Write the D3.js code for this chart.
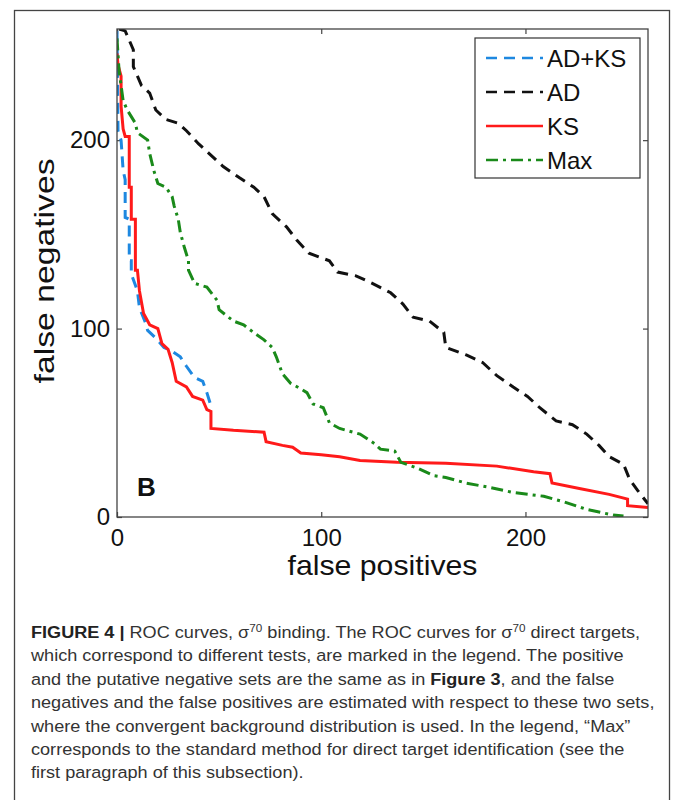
<!DOCTYPE html>
<html>
<head>
<meta charset="utf-8">
<script src="https://cdn.jsdelivr.net/npm/d3@7"></script>
<style>
  body { margin: 0; background: #fff; }
  svg { display: block; }
</style>
</head>
<body>
<div id="chart"></div>
<script>
// tick values
const xTicks = [0, 100, 200];
const yTicks = [0, 100, 200];

// series: [false positives, false negatives]
const adksData = [[0,258],[0.5,205],[2,200],[3,184],[4,179],[4,159],[6,158],[6,136],[7,136],[7,129],[10,120],[11,111],[14,103],[15,99],[19,95],[23,90],[27,88],[31,85],[34,80],[38,74],[42,72],[44,66],[46,59]];
const adData = [[1,259],[4,258],[8,248],[8,239],[12,229],[16,225],[19,216],[24,211],[30,209],[34,205],[40,198],[45,193],[52,186],[60,180],[67,175],[72,170],[76,161],[83,154],[88,147],[94,140],[104,136],[108,130],[117,128],[125,124],[134,119],[140,113],[145,106],[153,104],[160,98],[161,90],[171,86],[179,82],[186,75],[194,69],[201,64],[207,58],[215,51],[223,49],[230,44],[236,38],[241,32],[248,28],[251,20],[255,14],[260,7]];
const ksData = [[0,246],[0.5,240],[2,234],[2,218],[3,206],[4,202],[6,202],[6,175],[7,175],[7,158],[9,158],[9,131],[10,131],[11,120],[13,108],[16,102],[20,100],[22,92],[25,89],[27,82],[29,72],[34,69],[37,64],[42,62],[44,57],[46,56],[46,47],[57,46],[72,45],[73,40],[81,38],[86,37],[90,34],[100,33],[109,32],[119,30],[137,29],[161,28.5],[186,27],[204,24],[212,23],[213,18],[227,15],[241,12],[250,9.5],[250,6],[260,5]];
const maxData = [[0,254],[1,237],[3,221],[5,216],[9,209],[10,204],[15,200],[16,193],[18,184],[20,177],[24,175],[27,170],[28,165],[30,158],[31,151],[33,143],[35,136],[35,131],[38,124],[44,122],[49,115],[50,110],[57,104],[62,102],[68,97],[72,94],[76,90],[78,85],[81,76],[85,71],[90,68],[93,66],[96,60],[101,58],[104,50],[109,47],[119,44],[126,39],[129,36],[136,35],[139,29],[147,26],[155,22],[161,21],[171,18],[181,16],[194,13],[209,11],[219,8],[230,4],[243,1],[248,0.5]];

const seriesNames = ["AD+KS", "AD", "KS", "Max"];

const captionLines = [
  [{t: "FIGURE 4 | ", b: true}, {t: "ROC curves, σ"}, {t: "70", sup: true}, {t: " binding. The ROC curves for σ"}, {t: "70", sup: true}, {t: " direct targets,"}],
  [{t: "which correspond to different tests, are marked in the legend. The positive"}],
  [{t: "and the putative negative sets are the same as in "}, {t: "Figure 3", b: true}, {t: ", and the false"}],
  [{t: "negatives and the false positives are estimated with respect to these two sets,"}],
  [{t: "where the convergent background distribution is used. In the legend, “Max”"}],
  [{t: "corresponds to the standard method for direct target identification (see the"}],
  [{t: "first paragraph of this subsection)."}]
];

const W = 673, H = 800;
const margin = { top: 29, right: 25, bottom: 283, left: 117 };
const width = W - margin.left - margin.right;
const height = H - margin.top - margin.bottom;
const font = "'Liberation Sans', Arial, Helvetica, sans-serif";

const svg = d3.select("#chart").append("svg")
    .attr("width", W)
    .attr("height", H);

// outer frame of the figure panel
svg.append("rect")
    .attr("x", 14.5).attr("y", 10.5)
    .attr("width", 655).attr("height", 800)
    .attr("fill", "none")
    .attr("stroke", "#444")
    .attr("stroke-width", 1.3);

const g = svg.append("g")
    .attr("transform", `translate(${margin.left}, ${margin.top})`);

const x = d3.scaleLinear().domain([0, 260]).range([0, width]);
const y = d3.scaleLinear().domain([0, 259]).range([height, 0]);

g.append("defs").append("clipPath").attr("id", "plotclip")
  .append("rect").attr("width", width).attr("height", height);

// axes with inward ticks, matlab style
function styleAxis(sel) {
    sel.select(".domain").remove();
    sel.selectAll(".tick line").attr("stroke", "#444").attr("stroke-width", 1.2);
    sel.selectAll(".tick text")
        .attr("fill", "#111")
        .attr("font-family", font)
        .attr("font-size", 24);
}

g.append("g")
    .attr("transform", `translate(0, ${height})`)
    .call(d3.axisBottom(x).tickValues(xTicks).tickSizeInner(-5).tickSizeOuter(0).tickPadding(12))
    .call(styleAxis);
g.append("g")
    .call(d3.axisTop(x).tickValues(xTicks).tickSizeInner(-5).tickSizeOuter(0).tickFormat(""))
    .call(styleAxis);
g.append("g")
    .call(d3.axisLeft(y).tickValues(yTicks).tickSizeInner(-5).tickSizeOuter(0).tickPadding(7))
    .call(styleAxis);
g.append("g")
    .attr("transform", `translate(${width}, 0)`)
    .call(d3.axisRight(y).tickValues(yTicks).tickSizeInner(-5).tickSizeOuter(0).tickFormat(""))
    .call(styleAxis);

const line = d3.line()
    .x(d => x(d[0]))
    .y(d => y(d[1]));

const series = [
    { name: seriesNames[0], data: adksData, color: "#1e88e0", dash: "11,7" },
    { name: seriesNames[1], data: adData, color: "#111", dash: "11,7" },
    { name: seriesNames[2], data: ksData, color: "#ff1a1a", dash: null },
    { name: seriesNames[3], data: maxData, color: "#1a8a1a", dash: "12,5,3,5" }
];

const plot = g.append("g").attr("clip-path", "url(#plotclip)");
for (let s of series) {
    plot.append("path")
        .datum(s.data)
        .attr("d", line)
        .attr("fill", "none")
        .attr("stroke", s.color)
        .attr("stroke-width", 3)
        .attr("stroke-dasharray", s.dash);
}

// plot box
g.append("rect")
    .attr("width", width).attr("height", height)
    .attr("fill", "none")
    .attr("stroke", "#444")
    .attr("stroke-width", 1.3);

// panel letter
g.append("text")
    .attr("x", 20).attr("y", height - 21)
    .attr("font-family", font)
    .attr("font-weight", "bold")
    .attr("font-size", 26)
    .attr("fill", "#111")
    .text("B");

// legend
const legend = svg.append("g").attr("transform", "translate(475, 38)");
legend.append("rect")
    .attr("width", 165).attr("height", 140)
    .attr("fill", "#fff")
    .attr("stroke", "#333")
    .attr("stroke-width", 1.2);
series.forEach((s, i) => {
    let yy = 20 + i * 34;
    legend.append("line")
        .attr("x1", 11).attr("x2", 68)
        .attr("y1", yy).attr("y2", yy)
        .attr("stroke", s.color)
        .attr("stroke-width", 2.6)
        .attr("stroke-dasharray", s.dash);
    legend.append("text")
        .attr("x", 72).attr("y", yy + 9)
        .attr("font-family", font)
        .attr("font-size", 24)
        .attr("fill", "#111")
        .text(s.name);
});

// axis titles
svg.append("text")
    .attr("x", margin.left + width / 2).attr("y", 575)
    .attr("text-anchor", "middle")
    .attr("font-family", font)
    .attr("font-size", 28)
    .attr("fill", "#111")
    .attr("textLength", 190)
    .attr("lengthAdjust", "spacingAndGlyphs")
    .text("false positives");

svg.append("text")
    .attr("transform", "translate(54, 271) rotate(-90)")
    .attr("text-anchor", "middle")
    .attr("font-family", font)
    .attr("font-size", 28)
    .attr("fill", "#111")
    .attr("textLength", 225)
    .attr("lengthAdjust", "spacingAndGlyphs")
    .text("false negatives");

// caption, slightly widened like the original typeset text
const cap = svg.append("g")
    .attr("transform", "translate(31, 0) scale(1.065, 1)")
    .attr("font-family", font)
    .attr("font-size", 17)
    .attr("fill", "#333");
captionLines.forEach((parts, i) => {
    let t = cap.append("text")
        .attr("x", 0)
        .attr("y", 638 + i * 23.4);
    for (let p of parts) {
        let ts = t.append("tspan").text(p.t);
        if (p.b) ts.attr("font-weight", "bold").attr("fill", "#222");
        if (p.sup) ts.attr("font-size", 11).attr("baseline-shift", "super");
    }
});
</script>
</body>
</html>
